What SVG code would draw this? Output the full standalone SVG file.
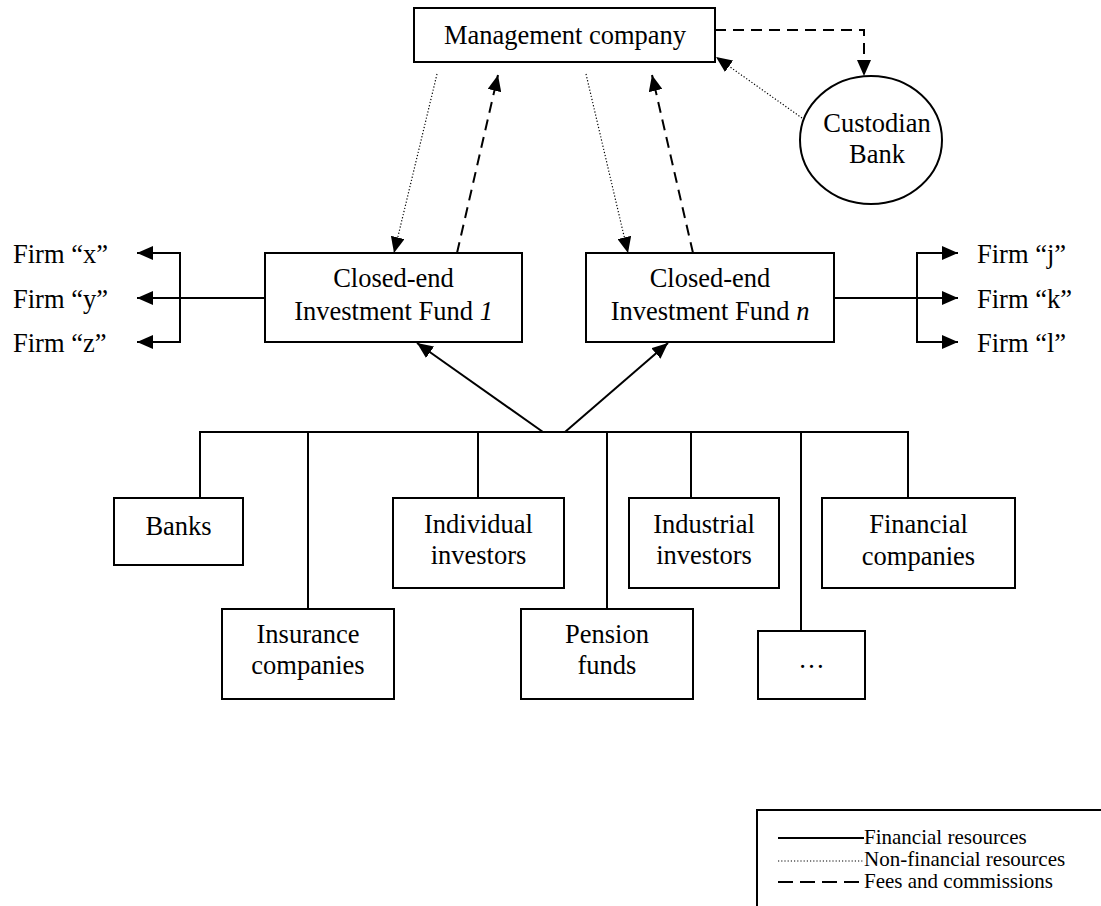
<svg xmlns="http://www.w3.org/2000/svg" width="1101" height="906" viewBox="0 0 1101 906">
<style>
.box{fill:#fff;stroke:#000;stroke-width:2}
.t{font-family:"Liberation Serif","Times New Roman",serif;font-size:26.5px;fill:#000;text-anchor:middle}
.tl{font-family:"Liberation Serif","Times New Roman",serif;font-size:26.5px;fill:#000}
.lg{font-family:"Liberation Serif","Times New Roman",serif;font-size:21px;fill:#000}
.solid{fill:none;stroke:#000;stroke-width:2}
.dot{fill:none;stroke:#000;stroke-width:1.2;stroke-dasharray:1.2 2}
.dash{fill:none;stroke:#000;stroke-width:2;stroke-dasharray:11 7}
</style>
<defs>
<marker id="ah" markerUnits="userSpaceOnUse" viewBox="0 0 16 14" refX="16" refY="7" markerWidth="16" markerHeight="14" orient="auto">
<path d="M0,0 L16,7 L0,14 z" fill="#000"/>
</marker>
</defs>
<rect x="0" y="0" width="1101" height="906" fill="#fff"/>

<g id="management">
<rect class="box" x="414" y="8" width="301" height="54"/>
<text class="t" x="565" y="44">Management company</text>
</g>
<g id="custodian">
<ellipse class="box" cx="871" cy="140" rx="71" ry="64"/>
<text class="t" x="877" y="132">Custodian</text>
<text class="t" x="877" y="163">Bank</text>
</g>
<g id="fund1">
<rect class="box" x="265" y="253" width="257" height="89"/>
<text class="t" x="393.5" y="287">Closed-end</text>
<text class="t" x="393.5" y="320">Investment Fund <tspan font-style="italic">1</tspan></text>
</g>
<g id="fundn">
<rect class="box" x="586" y="253" width="248" height="89"/>
<text class="t" x="710" y="287">Closed-end</text>
<text class="t" x="710" y="320">Investment Fund <tspan font-style="italic">n</tspan></text>
</g>
<g id="firms-left">
<text class="tl" x="13" y="263">Firm “x”</text>
<text class="tl" x="13" y="308">Firm “y”</text>
<text class="tl" x="13" y="352">Firm “z”</text>
</g>
<g id="firms-right">
<text class="tl" x="977" y="263">Firm “j”</text>
<text class="tl" x="977" y="308">Firm “k”</text>
<text class="tl" x="977" y="352">Firm “l”</text>
</g>
<g id="banks">
<rect class="box" x="114" y="498" width="129" height="67"/>
<text class="t" x="178.5" y="535">Banks</text>
</g>
<g id="insurance">
<rect class="box" x="222" y="609" width="172" height="90"/>
<text class="t" x="308" y="643">Insurance</text>
<text class="t" x="308" y="674">companies</text>
</g>
<g id="individual">
<rect class="box" x="393" y="498" width="171" height="90"/>
<text class="t" x="478.5" y="533">Individual</text>
<text class="t" x="478.5" y="564">investors</text>
</g>
<g id="pension">
<rect class="box" x="521" y="609" width="172" height="90"/>
<text class="t" x="607" y="643">Pension</text>
<text class="t" x="607" y="674">funds</text>
</g>
<g id="industrial">
<rect class="box" x="629" y="498" width="150" height="90"/>
<text class="t" x="704" y="533">Industrial</text>
<text class="t" x="704" y="564">investors</text>
</g>
<g id="others">
<rect class="box" x="758" y="631" width="107" height="68"/>
<text class="t" x="811.5" y="668">…</text>
</g>
<g id="financial">
<rect class="box" x="822" y="498" width="193" height="90"/>
<text class="t" x="918.5" y="533">Financial</text>
<text class="t" x="918.5" y="565">companies</text>
</g>

<g id="connectors">
<path class="dot" d="M437,74 L394,253" marker-end="url(#ah)"/>
<path class="dash" d="M457,253 L498,75" marker-end="url(#ah)"/>
<path class="dot" d="M586,74 L628,253" marker-end="url(#ah)"/>
<path class="dash" d="M693,253 L652,75" marker-end="url(#ah)"/>
<path class="dash" d="M715,30 H864 V76" marker-end="url(#ah)"/>
<path class="dot" d="M802,118 L716,57" marker-end="url(#ah)"/>
<path class="solid" d="M265,298 H137" marker-end="url(#ah)"/>
<path class="solid" d="M180,253 V342"/>
<path class="solid" d="M181,253 H137" marker-end="url(#ah)"/>
<path class="solid" d="M181,342 H137" marker-end="url(#ah)"/>
<path class="solid" d="M834,298 H958" marker-end="url(#ah)"/>
<path class="solid" d="M917,253 V342"/>
<path class="solid" d="M916,253 H958" marker-end="url(#ah)"/>
<path class="solid" d="M916,342 H958" marker-end="url(#ah)"/>
<path class="solid" d="M543,432 L417,343" marker-end="url(#ah)"/>
<path class="solid" d="M565,432 L668,343" marker-end="url(#ah)"/>
<path class="solid" d="M200,498 V432 H908 V498"/>
<path class="solid" d="M308,432 V609"/>
<path class="solid" d="M478,432 V498"/>
<path class="solid" d="M607,432 V609"/>
<path class="solid" d="M691,432 V498"/>
<path class="solid" d="M801,432 V631"/>
</g>

<g id="legend">
<rect class="box" x="757" y="810" width="400" height="200"/>
<path class="solid" d="M778,838 H864"/>
<text class="lg" x="864" y="844">Financial resources</text>
<path class="dot" d="M778,861 H864"/>
<text class="lg" x="864" y="866">Non-financial resources</text>
<path class="dash" d="M778,882 H864" style="stroke-dasharray:15 7"/>
<text class="lg" x="864" y="888">Fees and commissions</text>
</g>
</svg>
